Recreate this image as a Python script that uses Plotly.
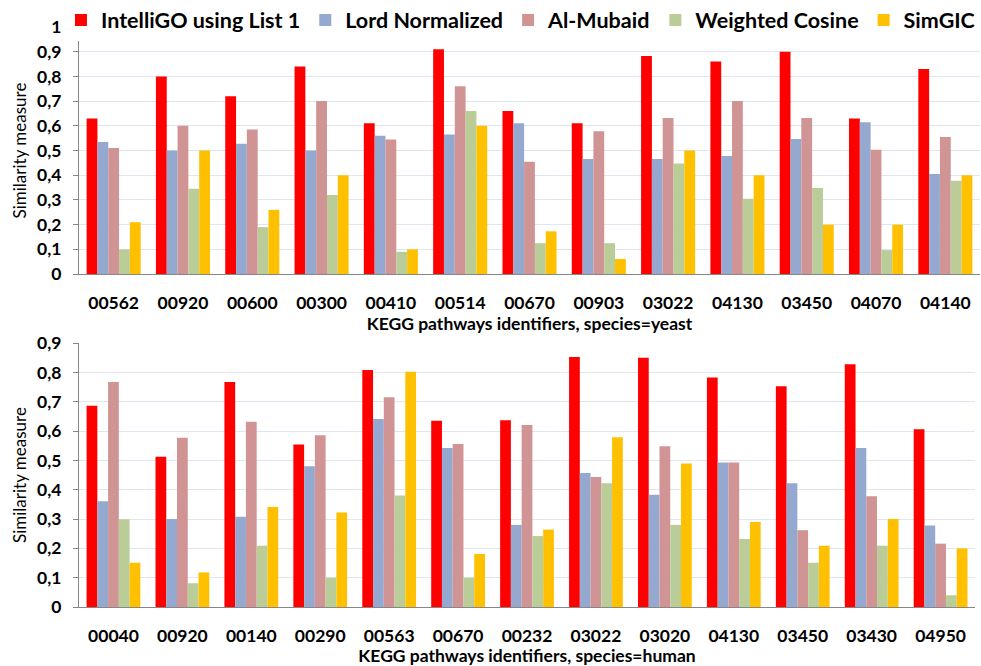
import plotly.graph_objects as go

series_names = ["IntelliGO using List 1", "Lord Normalized", "Al-Mubaid", "Weighted Cosine", "SimGIC"]
series_colors = ["#FF0000", "#95A9D0", "#D09494", "#BACD98", "#FFC000"]

# Top chart: yeast
yeast_pathways = ["00562", "00920", "00600", "00300", "00410", "00514", "00670",
                  "00903", "03022", "04130", "03450", "04070", "04140"]
yeast_intelligo = [0.63, 0.80, 0.72, 0.84, 0.61, 0.91, 0.66, 0.61, 0.883, 0.86, 0.90, 0.63, 0.83]
yeast_lord = [0.535, 0.50, 0.527, 0.50, 0.56, 0.565, 0.61, 0.466, 0.466, 0.478, 0.547, 0.615, 0.405]
yeast_almubaid = [0.51, 0.60, 0.585, 0.70, 0.545, 0.76, 0.455, 0.578, 0.632, 0.70, 0.632, 0.503, 0.555]
yeast_weighted = [0.10, 0.345, 0.19, 0.32, 0.09, 0.66, 0.125, 0.125, 0.448, 0.305, 0.348, 0.097, 0.378]
yeast_simgic = [0.21, 0.50, 0.26, 0.40, 0.10, 0.60, 0.173, 0.061, 0.50, 0.40, 0.20, 0.20, 0.40]

# Bottom chart: human
human_pathways = ["00040", "00920", "00140", "00290", "00563", "00670", "00232",
                  "03022", "03020", "04130", "03450", "03430", "04950"]
human_intelligo = [0.686, 0.512, 0.767, 0.554, 0.808, 0.635, 0.637, 0.853, 0.85, 0.783, 0.753, 0.828, 0.606]
human_lord = [0.361, 0.30, 0.308, 0.48, 0.641, 0.542, 0.28, 0.457, 0.383, 0.493, 0.422, 0.542, 0.278]
human_almubaid = [0.767, 0.577, 0.632, 0.586, 0.715, 0.556, 0.621, 0.443, 0.548, 0.493, 0.262, 0.378, 0.216]
human_weighted = [0.299, 0.081, 0.209, 0.10, 0.38, 0.10, 0.242, 0.422, 0.28, 0.232, 0.151, 0.209, 0.04]
human_simgic = [0.151, 0.118, 0.341, 0.322, 0.802, 0.181, 0.264, 0.579, 0.489, 0.29, 0.209, 0.30, 0.20]

yeast_series = [yeast_intelligo, yeast_lord, yeast_almubaid, yeast_weighted, yeast_simgic]
human_series = [human_intelligo, human_lord, human_almubaid, human_weighted, human_simgic]

FONT = "Lato"
fig = go.Figure()

for name, color, vals in zip(series_names, series_colors, yeast_series):
    fig.add_trace(go.Bar(x=yeast_pathways, y=vals, name=name, marker_color=color,
                         marker_line_width=0, xaxis="x", yaxis="y", legendgroup=name))
for name, color, vals in zip(series_names, series_colors, human_series):
    fig.add_trace(go.Bar(x=human_pathways, y=vals, name=name, marker_color=color,
                         marker_line_width=0, xaxis="x2", yaxis="y2", legendgroup=name,
                         showlegend=False))

grid_color = "#DFE6F2"
axis_color = "#868686"
tick_font = dict(family=FONT, size=17.5, color="#000000", weight=700)

common_y = dict(showgrid=True, gridcolor=grid_color, gridwidth=1, zeroline=False,
                showline=True, linecolor=axis_color, linewidth=1, ticks="outside",
                ticklen=5, tickcolor=axis_color, tickfont=tick_font, dtick=0.1,
                tickformat=".1~f", ticklabelstandoff=8,
                title=dict(text="Similarity measure", font=dict(family=FONT, size=17, color="#000000"),
                           standoff=6))
common_x = dict(type="category", showgrid=False, showline=True, linecolor=axis_color,
                linewidth=1, ticks="", tickfont=tick_font, ticklabelstandoff=13)

fig.update_layout(
    width=981, height=666,
    margin=dict(l=79, r=1, t=27, b=59, autoexpand=False),
    paper_bgcolor="white", plot_bgcolor="white",
    separators=", ",
    barmode="group", bargap=0.22, bargroupgap=0,
    xaxis=dict(common_x, domain=[0, 1], anchor="y",
               title=dict(text="KEGG pathways identifiers, species=yeast",
                          font=dict(family=FONT, size=17.5, color="#000000", weight=700), standoff=0)),
    yaxis=dict(common_y, domain=[0.574, 1], range=[0, 1], anchor="x"),
    xaxis2=dict(common_x, domain=[0, 0.9945], anchor="y2",
                title=dict(text="KEGG pathways identifiers, species=human",
                           font=dict(family=FONT, size=17.5, color="#000000", weight=700), standoff=0)),
    yaxis2=dict(common_y, domain=[0, 0.455], range=[0, 0.9], anchor="x2"),
    legend=dict(orientation="h", x=-0.02, xanchor="left", y=1.012, yanchor="middle",
                bgcolor="white", font=dict(family=FONT, size=21.5, color="#000000", weight=700),
                itemwidth=30, tracegroupgap=0, traceorder="normal"),
    showlegend=True,
)

fig.write_html("out.html", config={"displayModeBar": False},
               post_script="document.body.style.margin='0';document.body.style.overflow='hidden';")
